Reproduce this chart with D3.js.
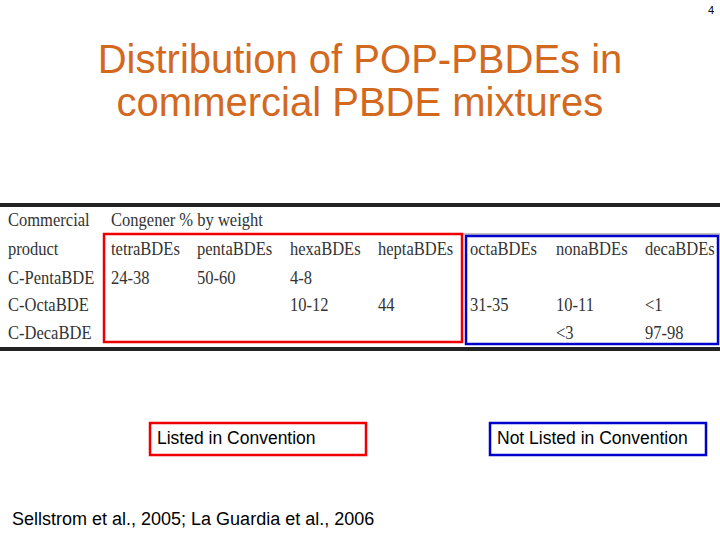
<!DOCTYPE html><html><head><meta charset="utf-8">
<script src="https://cdn.jsdelivr.net/npm/d3@7"></script>
<style>body{margin:0;background:#fff}</style></head><body>
<script>
const congeners=["tetraBDEs","pentaBDEs","hexaBDEs","heptaBDEs","octaBDEs","nonaBDEs","decaBDEs"];
const products=["C-PentaBDE","C-OctaBDE","C-DecaBDE"];
const values=[
 ["24-38","50-60","4-8","","","",""],
 ["","","10-12","44","31-35","10-11","<1"],
 ["","","","","","<3","97-98"]];
const colX=[111,197,290,378,470,556,645];
const svg=d3.select("body").append("svg").attr("width",720).attr("height",540);
svg.append("text").attr("x",714).attr("y",14).attr("text-anchor","end").attr("font-family","Arial").attr("font-size",11).text("4");
const title=["Distribution of POP-PBDEs in","commercial PBDE mixtures"];
svg.selectAll(".t").data(title).join("text").attr("x",360).attr("y",(d,i)=>73+i*43)
 .attr("text-anchor","middle").attr("font-family","Liberation Sans, Arial").attr("font-size",40).attr("fill","#D2691E").text(d=>d);
const y=d3.scalePoint().domain(products).range([278,333]);
const serif="Liberation Serif, Times New Roman";
const sx=0.87;
svg.append("rect").attr("x",0).attr("y",203).attr("width",720).attr("height",4).attr("fill","#222");
svg.append("rect").attr("x",0).attr("y",347).attr("width",720).attr("height",4).attr("fill","#222");
svg.append("line").attr("x1",104).attr("x2",720).attr("y1",234).attr("y2",234).attr("stroke","#888");
const g=svg.append("g").attr("transform",`scale(${sx},1)`).attr("font-family",serif).attr("font-size",19).attr("fill","#333");
const X=v=>v/sx;
g.append("text").attr("x",X(8)).attr("y",226).text("Commercial");
g.append("text").attr("x",X(8)).attr("y",255).text("product");
g.append("text").attr("x",X(111)).attr("y",226).text("Congener % by weight");
g.selectAll(".h").data(congeners).join("text").attr("x",(d,i)=>X(colX[i])).attr("y",255).text(d=>d);
g.selectAll(".p").data(products).join("text").attr("x",X(8)).attr("y",d=>y(d)+6).text(d=>d);
values.forEach((row,r)=>row.forEach((v,c)=>{if(v)g.append("text").attr("x",X(colX[c])).attr("y",y(products[r])+6).text(v);}));
svg.append("rect").attr("x",104).attr("y",234).attr("width",358).attr("height",108).attr("fill","none").attr("stroke","#e00").attr("stroke-width",2.5);
svg.append("rect").attr("x",466).attr("y",236).attr("width",252).attr("height",108).attr("fill","none").attr("stroke","#00c").attr("stroke-width",2.5);
const leg=[{t:"Listed in Convention",x:150,w:216,c:"#e00"},{t:"Not Listed in Convention",x:490,w:216,c:"#00c"}];
leg.forEach(l=>{svg.append("rect").attr("x",l.x).attr("y",423).attr("width",l.w).attr("height",32).attr("fill","none").attr("stroke",l.c).attr("stroke-width",2.5);
 svg.append("text").attr("x",l.x+7).attr("y",444).attr("font-family","Liberation Sans, Arial").attr("font-size",17.5).text(l.t);});
svg.append("text").attr("x",12).attr("y",525).attr("font-family","Liberation Sans, Arial").attr("font-size",18).text("Sellstrom et al., 2005; La Guardia et al., 2006");
</script></body></html>
